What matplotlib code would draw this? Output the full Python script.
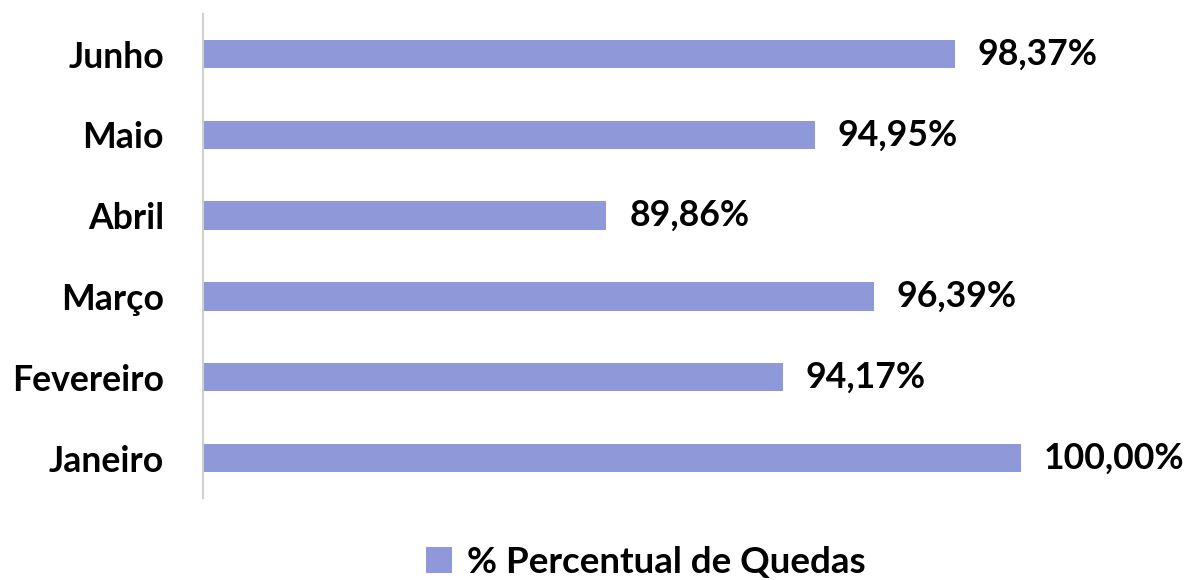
import matplotlib
matplotlib.use("Agg")
import matplotlib.pyplot as plt
from matplotlib.patches import Patch

months = ["Janeiro", "Fevereiro", "Março", "Abril", "Maio", "Junho"]
values = [100.00, 94.17, 96.39, 89.86, 94.95, 98.37]
series_name = "% Percentual de Quedas"

bar_color = "#8f98d8"
font = "Lato"

fig = plt.figure(figsize=(11.89, 5.80), dpi=100)
ax = fig.add_axes([203/1189, 1 - 498.4/580, (1103 - 203)/1189, (498.4 - 13.6)/580])

y = range(len(months))
ax.barh(y, [v - 80 for v in values], left=80, height=0.35, color=bar_color)
ax.set_xlim(80, 102)
ax.set_ylim(-0.5, len(months) - 0.5)

for i, v in enumerate(values):
    ax.annotate(f"{v:.2f}%".replace(".", ","), xy=(v, i), xytext=(23, 0),
                textcoords="offset pixels", va="center", ha="left",
                fontsize=25.7, fontweight="bold", family=font, color="#000000",
                annotation_clip=False)

ax.set_yticks(list(y))
ax.set_yticklabels(months, fontsize=25.7, fontweight="bold", family=font)
ax.tick_params(axis="y", length=0, pad=28)
ax.set_xticks([])
for s in ["top", "right", "bottom"]:
    ax.spines[s].set_visible(False)
ax.spines["left"].set_color("#d0d0d0")
ax.spines["left"].set_linewidth(1.5)

handles = [Patch(facecolor=bar_color, label=series_name)]
fig.legend(handles=handles, loc="center", bbox_to_anchor=(646/1189, 1 - 562/580),
           frameon=False, prop={"family": font, "weight": "bold", "size": 26.5},
           handlelength=0.7, handleheight=0.7, handletextpad=0.4)

fig.savefig("out.png", dpi=100)
